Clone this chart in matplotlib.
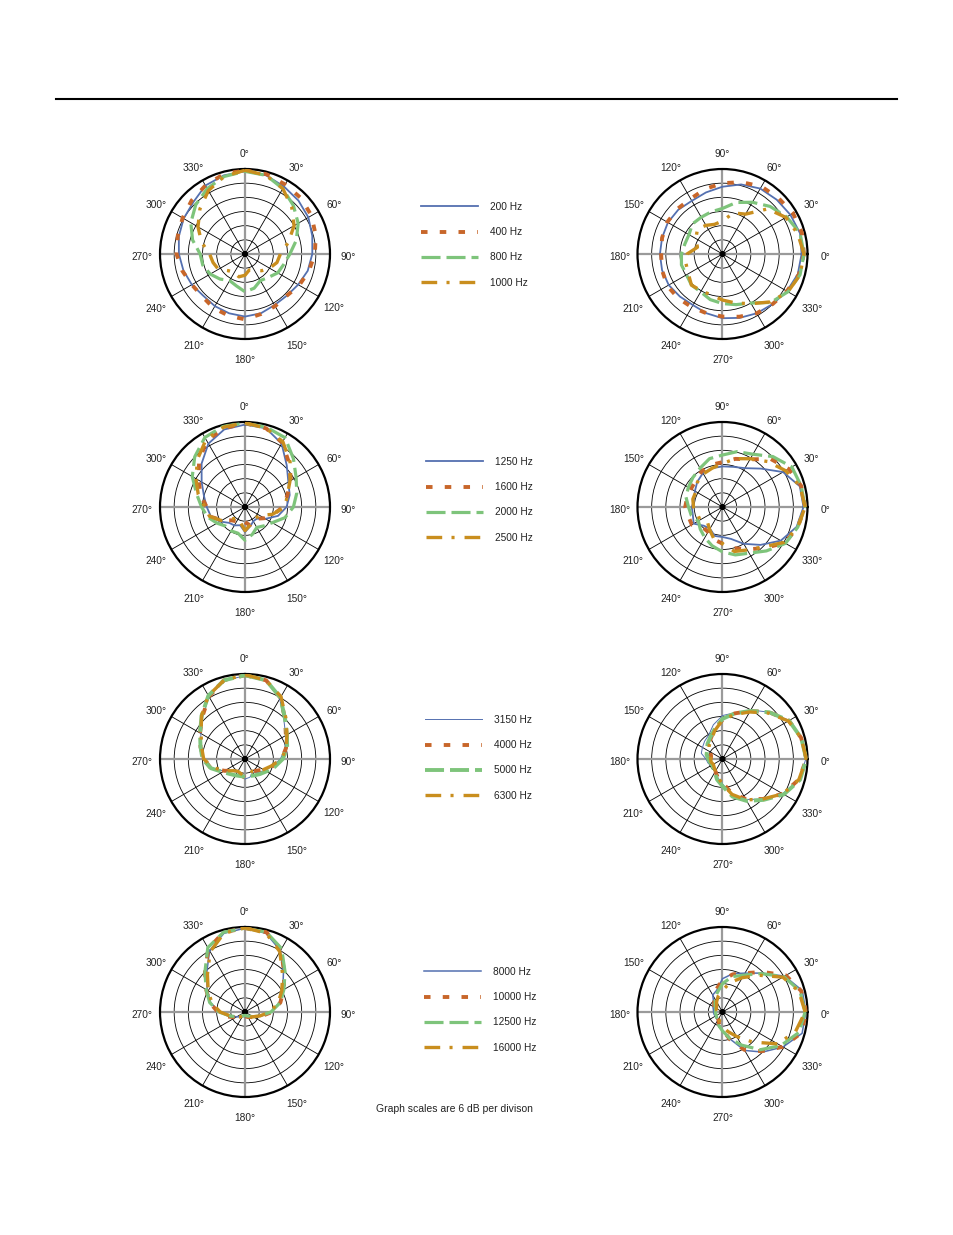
import numpy as np
import matplotlib
matplotlib.use('Agg')
import matplotlib.pyplot as plt
from matplotlib.lines import Line2D
from matplotlib.patches import Circle
from matplotlib.transforms import ScaledTranslation

plt.rcParams['font.family'] = ['Liberation Sans', 'DejaVu Sans']
plt.rcParams['lines.scale_dashes'] = False

W, H = 954, 1235

# measurement angles (deg) and levels (dB, 0 = on-axis, 6 dB per ring)
angles = np.arange(0, 360, 15)

# row 1 : 200 / 400 / 800 / 1000 Hz
h200 = [-1, -1.5, -3, -4, -5, -6.5, -7.5, -8.5, -10, -11, -11, -10, -9.5, -10, -10.5, -11, -10, -9, -8, -7, -6, -5, -2.5, -1.5]
h400 = [-0.5, -1, -2, -2.5, -3.5, -5, -6.4, -8, -9.5, -11, -10.5, -9.7, -8.3, -9, -9.5, -10.5, -10, -8.5, -7, -6.5, -5.5, -4, -2.5, -1]
h800 = [-1, -1.5, -4, -7, -10, -13.5, -17, -19, -20, -22, -23, -21, -20, -22, -23, -21, -19, -17.5, -17, -13, -9.5, -6.5, -4, -2]
h1000 = [-0.5, -1.5, -4, -8, -12, -17, -21, -22, -24, -26, -28, -29, -27, -26, -27, -26, -23, -22, -21, -17, -13, -9, -5, -2]
v200 = [-2.5, -2, -2.8, -3.5, -4, -5.5, -7.5, -9, -10, -9.5, -9.3, -9.5, -9.5, -9.5, -9.7, -10.5, -11, -10, -8.8, -8, -7, -6, -4.5, -3]
v400 = [-1.5, -1.2, -1.5, -2.5, -3, -4.5, -6, -7.5, -9, -9, -9, -9.5, -10, -9.5, -9, -9.5, -10, -10, -9.5, -8.5, -7, -6, -4.5, -2.5]
v800 = [-1.5, -2, -4.6, -7.5, -10.7, -13.4, -16.7, -17.5, -18, -18, -19.6, -19.5, -18.6, -18, -18.4, -17.4, -17.5, -16, -15, -13.8, -12, -7, -4, -2]
v1000 = [-1.5, -3, -5, -9, -16.5, -18, -22, -23, -22, -21, -23, -25, -21, -20, -19.3, -17.4, -18, -18, -16.5, -14.5, -11.7, -7.3, -4, -2]

# row 2 : 1250 / 1600 / 2000 / 2500 Hz
h1250 = [-1.1, -1.5, -5, -11, -14.8, -16.4, -18.4, -21.5, -26, -29, -29, -27.5, -25.4, -28, -27, -26.5, -23.7, -21, -19.8, -18, -14.8, -10, -5, -2]
h1600 = [-0.5, -1.5, -4.5, -9.6, -13.5, -17.5, -19.8, -23.7, -26.5, -29, -30, -28, -29.6, -28, -29, -28, -24.8, -20.5, -19.8, -16.5, -13.3, -8.5, -3.5, -1.5]
h2000 = [-0.5, -1, -2.1, -7, -11, -13.3, -15.5, -18.5, -22.7, -24.7, -26, -24, -21.9, -24.5, -24.3, -24.5, -22.3, -19.6, -17.6, -14.8, -10.2, -5.9, -2, -0.5]
h2500 = [-0.3, -1.5, -4, -9, -14, -17.5, -19, -24, -28.8, -29.5, -30, -28, -26, -29, -30.5, -29, -24.5, -20.5, -19, -15.5, -12, -7.5, -3, -1]
v1250 = [-1.7, -2.1, -6.4, -13, -17, -18.4, -18.8, -19, -19.4, -20.9, -22.5, -23.6, -23, -23, -21.9, -24.8, -25.4, -23.3, -23.3, -22, -18, -13.3, -7.5, -3.5]
v1600 = [-1, -1.5, -3.7, -7.2, -12.7, -14.9, -17, -17.5, -18.5, -20, -20.6, -20.5, -20.2, -21, -21, -24, -23.8, -21.8, -20.5, -18, -15.3, -11.3, -5.6, -3]
v2000 = [-1, -1.5, -2.1, -5.8, -10.2, -11.7, -14, -14.8, -17, -18.3, -19.3, -20, -21.6, -22.3, -24.2, -22.7, -21, -19, -17, -15, -13.4, -9.7, -5.2, -3]
v2500 = [-1, -2, -5.2, -8.8, -12.4, -14.8, -17.6, -19, -19.8, -21, -23, -23, -23.7, -25, -25, -27, -25, -22, -20.5, -16.5, -15, -12, -6, -3]

# row 3 : 3150 / 4000 / 5000 / 6300 Hz
h3150 = [-0.7, -1.7, -6.6, -12.7, -16.1, -18.5, -21, -24, -26.4, -28, -29.5, -28, -27.5, -29, -29.5, -28.6, -25.8, -21.3, -18, -16.6, -14.4, -10.7, -5.5, -1.7]
h4000 = [-0.5, -1.5, -6, -12, -16, -18, -20.5, -24, -27, -29, -30, -29, -28, -29, -30, -29, -26, -21, -18.5, -16.5, -14, -10.5, -5.5, -1.5]
h5000 = [-0.5, -1.5, -6, -12, -15.5, -17.5, -20, -23, -25.5, -27, -28, -28.5, -28.5, -28.5, -28, -27, -25, -21, -18, -16.5, -14, -10, -5, -1.5]
h6300 = [-0.3, -1.5, -5.5, -11.5, -15.5, -18, -20.5, -24.5, -27, -29, -30, -29, -29, -29.5, -30, -29, -26, -22, -18.5, -17, -14.5, -10, -5, -1.5]
v3150 = [-0.7, -1.5, -3.3, -8, -12, -15.7, -17.6, -21, -24.3, -25.3, -26.2, -26.7, -29, -29.6, -30.4, -30.5, -30, -28, -25.4, -20.3, -16.2, -12, -6.6, -2.4]
v4000 = [-0.5, -1.5, -3.5, -8, -12.5, -16, -19.5, -23, -26, -28, -30, -31, -31, -31, -31, -30.5, -30, -28, -26, -21, -16.5, -12, -6.5, -2.5]
v5000 = [-0.5, -1.5, -3.5, -8, -12.5, -16, -19, -23, -25.5, -27, -28.5, -29, -30, -30.5, -31, -30.5, -29.5, -27, -24.5, -19.5, -15.5, -11.5, -6, -2]
v6300 = [-0.5, -1.5, -3.8, -8.5, -13, -16.5, -19.5, -23.5, -26.5, -28, -29.5, -30.5, -31, -31, -31.5, -31, -30, -28, -25.5, -20.5, -16, -12, -6.5, -2.5]

# row 4 : 8000 / 10000 / 12500 / 16000 Hz
h8000 = [-0.5, -1.5, -6, -13, -17.5, -21, -25, -29, -32, -33, -34, -34, -34, -34, -34, -33, -32, -29, -25, -21, -17.5, -13, -6, -1.5]
h10000 = [-0.5, -1, -5.5, -12.5, -17, -20.5, -24.5, -29, -31.5, -33, -33.5, -34, -34.5, -34, -33.5, -33, -31.5, -28.5, -24.5, -20.5, -17, -12, -5, -1]
h12500 = [-0.5, -1, -5, -12, -17, -20.5, -25, -29.5, -32, -33.5, -34, -34.5, -34.5, -34.5, -34, -33.5, -32, -29.5, -25, -20.5, -17, -12, -4.5, -1]
h16000 = [-0.3, -1.5, -6.5, -13.5, -18, -21.5, -25.5, -29.5, -32, -33, -34, -34.5, -35, -34.5, -34, -33, -32, -29.5, -25.5, -21.5, -18, -13.5, -6.5, -1.5]
v8000 = [-0.7, -1, -5.6, -12.7, -17, -19.2, -21.9, -26.5, -27.7, -30.8, -31.3, -32, -32.2, -32.3, -32.5, -32.3, -32, -29.6, -28.2, -24.3, -17.2, -12, -6.4, -1.1]
v10000 = [-0.5, -1.5, -5, -12, -17, -19.5, -22.5, -26, -29, -31, -32, -33, -33.5, -33.5, -33.5, -33, -32.5, -30.5, -28.5, -24, -17.5, -12.5, -6.5, -1.5]
v12500 = [-1, -2, -6, -13, -18, -20.5, -24, -27.5, -30, -31.5, -32.5, -33, -33, -33, -33, -32.5, -32, -30, -28, -24.5, -19.8, -13.4, -7.5, -2.5]
v16000 = [-1, -2.5, -6.5, -14, -19.2, -23, -26.8, -29, -31, -32.5, -33, -33.5, -34, -34, -34, -33.5, -33, -31.5, -30, -27.5, -24, -18, -9, -4]

row_labels = [
    ['200 Hz', '400 Hz', '800 Hz', '1000 Hz'],
    ['1250 Hz', '1600 Hz', '2000 Hz', '2500 Hz'],
    ['3150 Hz', '4000 Hz', '5000 Hz', '6300 Hz'],
    ['8000 Hz', '10000 Hz', '12500 Hz', '16000 Hz'],
]
horiz = [[h200, h400, h800, h1000], [h1250, h1600, h2000, h2500],
         [h3150, h4000, h5000, h6300], [h8000, h10000, h12500, h16000]]
vert = [[v200, v400, v800, v1000], [v1250, v1600, v2000, v2500],
        [v3150, v4000, v5000, v6300], [v8000, v10000, v12500, v16000]]

COLORS = ['#5470B0', '#C8662A', '#7EC47B', '#C98E1E']
DASHES = [None, (4.7, 8.8), (13.7, 4.3), (11.3, 6.7, 2.2, 7.2)]
BLUE_LW = [1.3, 1.3, 0.7, 1.1]
GREEN_LW = [2.3, 2.3, 2.8, 2.3]

# layout (pixels)
R = 85
CX_L, CX_R = 245, 722.5
CY = [254, 507, 759, 1012]
LEG_X = [421, 426, 425, 424]
LEG_Y = [202, 457, 715, 967]
LABEL_R = -36 + 103 / R * 36      # angle labels ~103 px from centre
TEXT_C = '#222222'


def style(i, row):
    kw = dict(color=COLORS[i])
    if i == 0:
        kw.update(lw=BLUE_LW[row], ls='-')
    elif i == 1:
        kw.update(lw=2.8, dashes=DASHES[i])
    elif i == 2:
        kw.update(lw=GREEN_LW[row], dashes=DASHES[i])
    else:
        kw.update(lw=2.4, dashes=DASHES[i])
    return kw


def polar_panel(fig, cx, cy, series, row, front_up):
    ax = fig.add_axes([(cx - R) / W, 1 - (cy + R) / H, 2 * R / W, 2 * R / H],
                      projection='polar')
    if front_up:
        ax.set_theta_zero_location('N')
        ax.set_theta_direction(-1)
    else:
        ax.set_theta_zero_location('E')
        ax.set_theta_direction(1)
    ax.set_ylim(-36, 0)
    ax.set_rgrids([-30, -24, -18, -12, -6], labels=[''] * 5)
    tick_deg = np.arange(0, 360, 30)
    ax.set_thetagrids(tick_deg, labels=[''] * len(tick_deg))
    ax.tick_params(axis='x', length=0)
    shift = ax.transData + ScaledTranslation(0, -3 / 100, fig.dpi_scale_trans)
    for d in tick_deg:
        ax.text(np.deg2rad(d), LABEL_R, f'{d}°', transform=shift,
                ha='center', va='center', fontsize=7.3, color=TEXT_C, clip_on=False)
    ax.grid(True, color='black', lw=0.6)
    ax.set_axisbelow(True)
    ax.spines['polar'].set_linewidth(1.6)
    ax.spines['polar'].set_color('black')
    ax.vlines(np.deg2rad([0, 90, 180, 270]), -36, 0, colors='#9A9A9A', lw=1.6, zorder=1.2)
    ax.add_patch(Circle((0.5, 0.5), 0.014, transform=ax.transAxes,
                        color='black', zorder=1.3))
    th = np.deg2rad(np.append(angles, angles[0]))
    handles = []
    for i, vals in enumerate(series):
        r = np.append(vals, vals[0])
        ln, = ax.plot(th, r, zorder=2 + i, **style(i, row))
        handles.append(ln)
    return handles


fig = plt.figure(figsize=(W / 100, H / 100), dpi=100)
fig.patch.set_facecolor('white')

fig.add_artist(Line2D([56 / W, 897 / W], [1 - 99 / H] * 2, color='black', lw=1.5))

for row in range(4):
    handles = polar_panel(fig, CX_L, CY[row], horiz[row], row, True)
    polar_panel(fig, CX_R, CY[row], vert[row], row, False)
    fig.legend(handles, row_labels[row], loc='upper left',
               bbox_to_anchor=(LEG_X[row] / W, 1 - LEG_Y[row] / H),
               frameon=False, fontsize=7.3, labelcolor=TEXT_C,
               handlelength=5.6, handletextpad=1.25, labelspacing=1.5,
               borderpad=0, borderaxespad=0)

fig.text(454 / W, 1 - 1109 / H, 'Graph scales are 6 dB per divison',
         ha='center', va='center', fontsize=7.5, color=TEXT_C)

fig.savefig('out.png', dpi=100, facecolor='white')
